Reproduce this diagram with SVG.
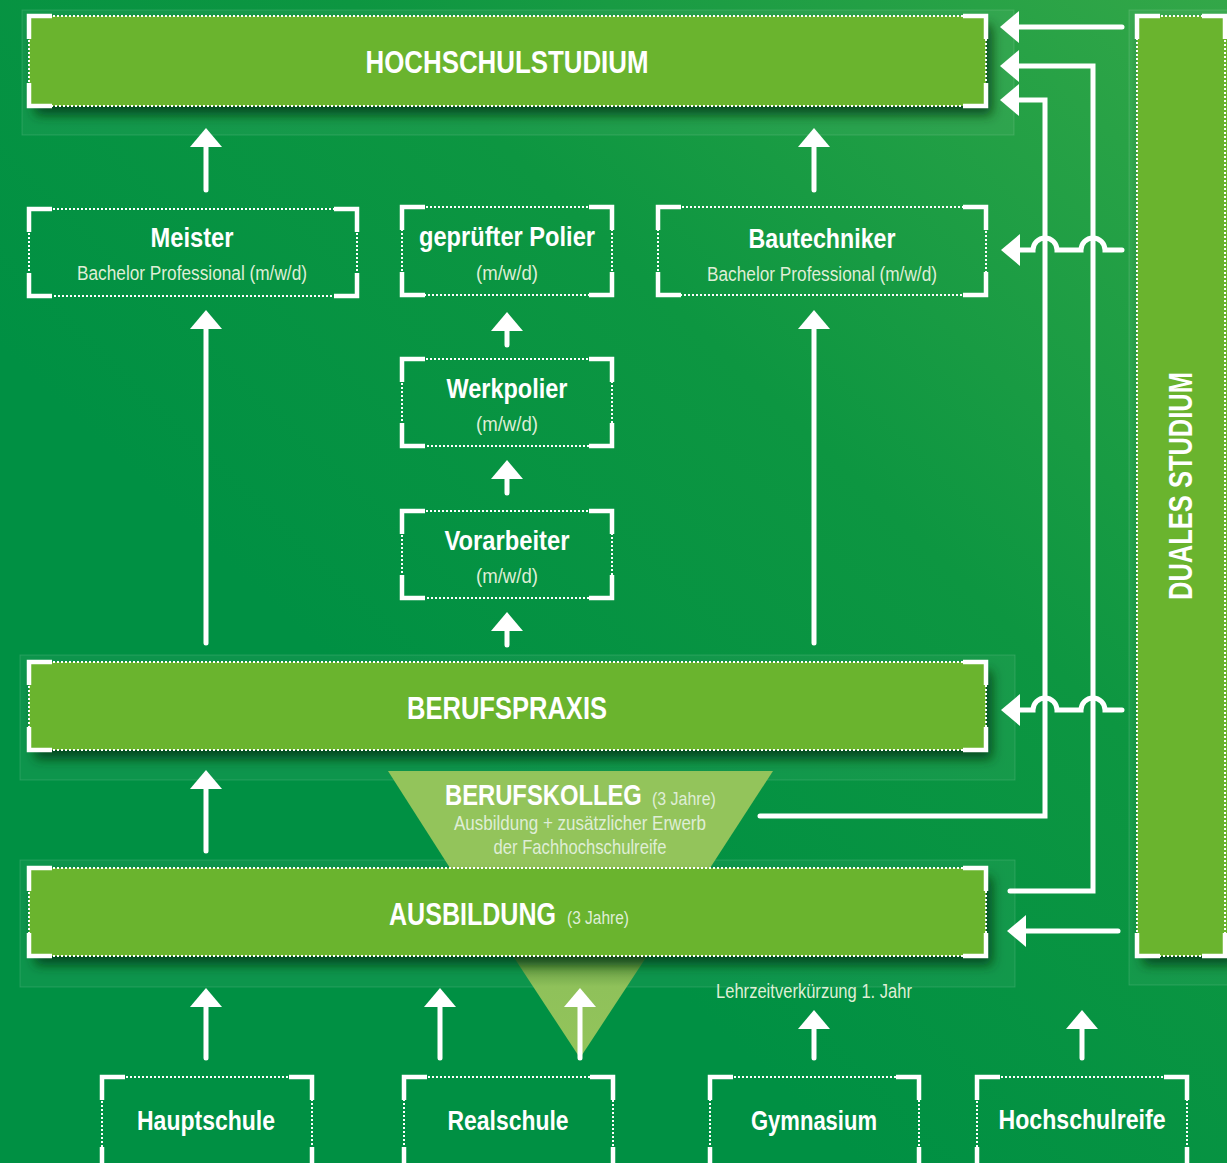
<svg xmlns="http://www.w3.org/2000/svg" width="1227" height="1163" viewBox="0 0 1227 1163">
<defs>
<linearGradient id="bg" x1="1" y1="0" x2="0.35" y2="0.65">
<stop offset="0" stop-color="#33a748"/>
<stop offset="0.55" stop-color="#0d9641"/>
<stop offset="1" stop-color="#009043"/>
</linearGradient>
<linearGradient id="tri" x1="0" y1="0" x2="0" y2="1">
<stop offset="0" stop-color="#4f8a38"/>
<stop offset="0.3" stop-color="#8fc15a"/>
<stop offset="1" stop-color="#93c45b"/>
</linearGradient>
<filter id="sh" x="-5%" y="-20%" width="115%" height="160%">
<feDropShadow dx="6" dy="9" stdDeviation="6" flood-color="#00300f" flood-opacity="0.75"/>
</filter>
<marker id="ah" markerUnits="userSpaceOnUse" viewBox="0 0 19 32" markerWidth="19" markerHeight="32" refX="13" refY="16" orient="auto">
<path d="M0,0 L19,16 L0,32 Z" fill="#fff"/>
</marker>
<style>
.bd{fill:#fff;fill-opacity:0.05;stroke:#fff;stroke-opacity:0.12;stroke-width:1}
.fill{fill:#6ab42e}
.dot{fill:none;stroke:#fff;stroke-width:2;stroke-dasharray:2 2}
.br{fill:none;stroke:#fff;stroke-width:4.5;stroke-linecap:butt;stroke-linejoin:miter}
.ln{fill:none;stroke:#fff;stroke-width:5;stroke-linecap:round;stroke-linejoin:miter}
.tb{font-family:"Liberation Sans",Arial,sans-serif;font-weight:bold;fill:#fff}
.tr{font-family:"Liberation Sans",Arial,sans-serif;font-weight:normal;fill:#dfeed6}
.mid{text-anchor:middle}
</style>
</defs>
<rect x="0" y="0" width="1227" height="1163" fill="url(#bg)"/>
<g id="backdrops">
<rect class="bd" x="22" y="10" width="992" height="125"/>
<rect class="bd" x="20" y="655" width="995" height="125"/>
<rect class="bd" x="20" y="860" width="995" height="127"/>
<rect class="bd" x="1129" y="10" width="100" height="975"/>
</g>
<g id="berufskolleg">
<polygon points="388,771 773,771 710,868 450,868" fill="#93c45b"/>
<text class="tb" transform="translate(445,805) scale(0.82,1)" x="0" y="0" font-size="29" textLength="240" lengthAdjust="spacingAndGlyphs">BERUFSKOLLEG</text>
<text class="tr" transform="translate(652,805) scale(0.84,1)" x="0" y="0" font-size="19" textLength="76" lengthAdjust="spacingAndGlyphs">(3 Jahre)</text>
<text class="tr mid" x="580" y="830" font-size="21" textLength="252" lengthAdjust="spacingAndGlyphs">Ausbildung + zusätzlicher Erwerb</text>
<text class="tr mid" x="580" y="854" font-size="21" textLength="173" lengthAdjust="spacingAndGlyphs">der Fachhochschulreife</text>
</g>
<g id="verkuerzung">
<polygon points="513,956 647,956 580,1058" fill="url(#tri)"/>
</g>
<g id="hochschulstudium">
<rect class="fill" x="29" y="16" width="957" height="90" filter="url(#sh)"/>
<rect class="dot" x="29" y="16" width="957" height="90"/>
<path class="br" d="M29,39V16H52M963,16H986V39M986,83V106H963M52,106H29V83"/>
<text class="tb mid" x="507" y="73" font-size="31" textLength="283" lengthAdjust="spacingAndGlyphs">HOCHSCHULSTUDIUM</text>
</g>
<g id="meister">
<rect class="dot" x="29" y="209" width="328" height="87"/>
<path class="br" d="M29,232V209H52M334,209H357V232M357,273V296H334M52,296H29V273"/>
<text class="tb mid" x="192" y="247" font-size="27" textLength="83" lengthAdjust="spacingAndGlyphs">Meister</text>
<text class="tr mid" x="192" y="280" font-size="20" textLength="230" lengthAdjust="spacingAndGlyphs">Bachelor Professional (m/w/d)</text>
</g>
<g id="polier">
<rect class="dot" x="402" y="207" width="210" height="88"/>
<path class="br" d="M402,230V207H425M589,207H612V230M612,272V295H589M425,295H402V272"/>
<text class="tb mid" x="507" y="246" font-size="27" textLength="176" lengthAdjust="spacingAndGlyphs">geprüfter Polier</text>
<text class="tr mid" x="507" y="280" font-size="20" textLength="62" lengthAdjust="spacingAndGlyphs">(m/w/d)</text>
</g>
<g id="bautechniker">
<rect class="dot" x="658" y="207" width="328" height="88"/>
<path class="br" d="M658,230V207H681M963,207H986V230M986,272V295H963M681,295H658V272"/>
<text class="tb mid" x="822" y="248" font-size="27" textLength="147" lengthAdjust="spacingAndGlyphs">Bautechniker</text>
<text class="tr mid" x="822" y="281" font-size="20" textLength="230" lengthAdjust="spacingAndGlyphs">Bachelor Professional (m/w/d)</text>
</g>
<g id="werkpolier">
<rect class="dot" x="402" y="359" width="210" height="87"/>
<path class="br" d="M402,382V359H425M589,359H612V382M612,423V446H589M425,446H402V423"/>
<text class="tb mid" x="507" y="398" font-size="27" textLength="121" lengthAdjust="spacingAndGlyphs">Werkpolier</text>
<text class="tr mid" x="507" y="431" font-size="20" textLength="62" lengthAdjust="spacingAndGlyphs">(m/w/d)</text>
</g>
<g id="vorarbeiter">
<rect class="dot" x="402" y="511" width="210" height="87"/>
<path class="br" d="M402,534V511H425M589,511H612V534M612,575V598H589M425,598H402V575"/>
<text class="tb mid" x="507" y="550" font-size="27" textLength="125" lengthAdjust="spacingAndGlyphs">Vorarbeiter</text>
<text class="tr mid" x="507" y="583" font-size="20" textLength="62" lengthAdjust="spacingAndGlyphs">(m/w/d)</text>
</g>
<g id="berufspraxis">
<rect class="fill" x="29" y="662" width="957" height="88" filter="url(#sh)"/>
<rect class="dot" x="29" y="662" width="957" height="88"/>
<path class="br" d="M29,685V662H52M963,662H986V685M986,727V750H963M52,750H29V727"/>
<text class="tb mid" x="507" y="719" font-size="31" textLength="200" lengthAdjust="spacingAndGlyphs">BERUFSPRAXIS</text>
</g>
<g id="ausbildung">
<rect class="fill" x="29" y="868" width="957" height="88" filter="url(#sh)"/>
<rect class="dot" x="29" y="868" width="957" height="88"/>
<path class="br" d="M29,891V868H52M963,868H986V891M986,933V956H963M52,956H29V933"/>
<text class="tb" transform="translate(389,925) scale(0.807,1)" x="0" y="0" font-size="31" textLength="207" lengthAdjust="spacingAndGlyphs">AUSBILDUNG</text>
<text class="tr" transform="translate(567,924) scale(0.816,1)" x="0" y="0" font-size="19" textLength="76" lengthAdjust="spacingAndGlyphs">(3 Jahre)</text>
</g>
<g id="duales-studium">
<rect class="fill" x="1137" y="16" width="92" height="940" filter="url(#sh)"/>
<rect class="dot" x="1137" y="16" width="88" height="940"/>
<path class="br" d="M1137,39V16H1160M1202,16H1225V39M1225,933V956H1202M1160,956H1137V933"/>
<text class="tb mid" transform="translate(1192,486) rotate(-90)" x="0" y="0" font-size="33" textLength="228" lengthAdjust="spacingAndGlyphs">DUALES STUDIUM</text>
</g>
<g id="hauptschule">
<rect class="dot" x="102" y="1077" width="210" height="93"/>
<path class="br" d="M102,1100V1077H125M289,1077H312V1100M312,1147V1170H289M125,1170H102V1147"/>
<text class="tb mid" x="206" y="1130" font-size="27" textLength="138" lengthAdjust="spacingAndGlyphs">Hauptschule</text>
</g>
<g id="realschule">
<rect class="dot" x="404" y="1077" width="209" height="93"/>
<path class="br" d="M404,1100V1077H427M590,1077H613V1100M613,1147V1170H590M427,1170H404V1147"/>
<text class="tb mid" x="508" y="1130" font-size="27" textLength="121" lengthAdjust="spacingAndGlyphs">Realschule</text>
</g>
<g id="gymnasium">
<rect class="dot" x="710" y="1077" width="209" height="93"/>
<path class="br" d="M710,1100V1077H733M896,1077H919V1100M919,1147V1170H896M733,1170H710V1147"/>
<text class="tb mid" x="814" y="1130" font-size="27" textLength="126" lengthAdjust="spacingAndGlyphs">Gymnasium</text>
</g>
<g id="hochschulreife">
<rect class="dot" x="977" y="1077" width="210" height="93"/>
<path class="br" d="M977,1100V1077H1000M1164,1077H1187V1100M1187,1147V1170H1164M1000,1170H977V1147"/>
<text class="tb mid" x="1082" y="1129" font-size="27" textLength="167" lengthAdjust="spacingAndGlyphs">Hochschulreife</text>
</g>
<g id="connectors">
<path class="ln" marker-end="url(#ah)" d="M206,190V134"/>
<path class="ln" marker-end="url(#ah)" d="M814,190V134"/>
<path class="ln" marker-end="url(#ah)" d="M206,643V316"/>
<path class="ln" marker-end="url(#ah)" d="M814,643V316"/>
<path class="ln" marker-end="url(#ah)" d="M507,345V318"/>
<path class="ln" marker-end="url(#ah)" d="M507,493V466"/>
<path class="ln" marker-end="url(#ah)" d="M507,645V618"/>
<path class="ln" marker-end="url(#ah)" d="M206,851V776"/>
<path class="ln" marker-end="url(#ah)" d="M206,1058V994"/>
<path class="ln" marker-end="url(#ah)" d="M440,1058V994"/>
<path class="ln" marker-end="url(#ah)" d="M580,1058V994"/>
<path class="ln" marker-end="url(#ah)" d="M814,1058V1016"/>
<path class="ln" marker-end="url(#ah)" d="M1082,1058V1016"/>
<path class="ln" marker-end="url(#ah)" d="M1122,27H1006"/>
<path class="ln" marker-end="url(#ah)" d="M760,816H1045V100H1006"/>
<path class="ln" marker-end="url(#ah)" d="M1010,891H1093V66H1006"/>
<path class="ln" marker-end="url(#ah)" d="M1122,250H1105A12,12 0 0 0 1081,250H1057A12,12 0 0 0 1033,250H1007"/>
<path class="ln" marker-end="url(#ah)" d="M1122,710H1105A12,12 0 0 0 1081,710H1057A12,12 0 0 0 1033,710H1007"/>
<path class="ln" marker-end="url(#ah)" d="M1118,931H1013"/>
</g>
<text class="tr mid" x="814" y="998" font-size="20" textLength="196" lengthAdjust="spacingAndGlyphs">Lehrzeitverkürzung 1. Jahr</text>
</svg>
